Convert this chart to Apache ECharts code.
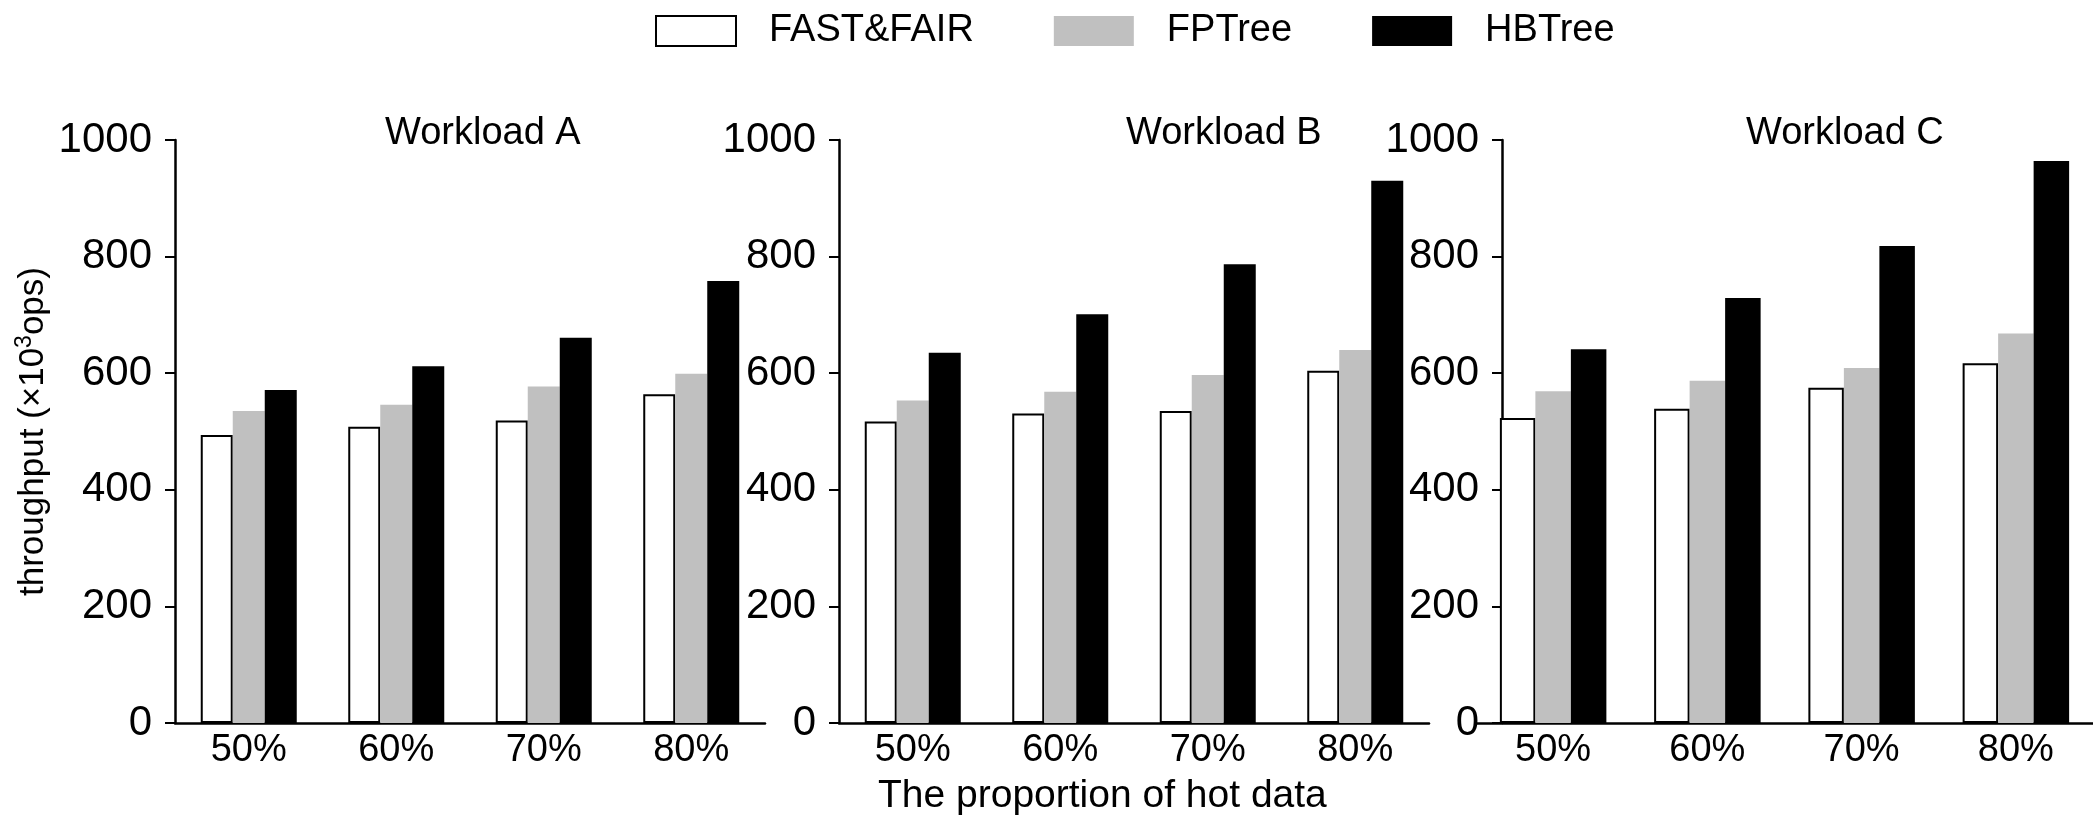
<!DOCTYPE html>
<html>
<head>
<meta charset="utf-8">
<script src="https://cdn.jsdelivr.net/npm/echarts@6/dist/echarts.min.js"></script>
<style>
html, body { margin: 0; padding: 0; background: #fff; }
#chart { width: 2093px; height: 815px; }
</style>
</head>
<body>
<div id="chart"></div>
<script>
var categories = ['50%', '60%', '70%', '80%'];
var seriesNames = ['FAST&FAIR', 'FPTree', 'HBTree'];
var workloads = ['Workload A', 'Workload B', 'Workload C'];

// throughput, x10^3 ops
var fastFairA = [494, 508, 519, 564];
var fpTreeA = [535, 546, 577, 599];
var hbTreeA = [571, 612, 661, 758];

var fastFairB = [517, 531, 535, 604];
var fpTreeB = [553, 568, 597, 640];
var hbTreeB = [635, 701, 787, 930];

var fastFairC = [523, 539, 575, 617];
var fpTreeC = [569, 587, 609, 668];
var hbTreeC = [641, 729, 818, 964];

var FONT = 'Liberation Sans';

function initCharts() {
    var dom = document.getElementById('chart');
    var myChart = echarts.init(dom);

    var panels = [
        {left: 175, width: 590, barWidth: 32, offset: 0, data: [fastFairA, fpTreeA, hbTreeA], titleLeft: 380},
        {left: 839, width: 590, barWidth: 32, offset: 0, data: [fastFairB, fpTreeB, hbTreeB], titleLeft: 1121},
        // panel C is wider and its y spine sits a bit inside the plot
        {left: 1476, width: 647, barWidth: 35.5, offset: -26, data: [fastFairC, fpTreeC, hbTreeC], titleLeft: 1741}
    ];
    var styles = [
        {color: '#fff', borderColor: '#000', borderWidth: 2},
        {color: '#c0c0c0'},
        {color: '#000'}
    ];

    var grid = [], xAxis = [], yAxis = [], series = [], title = [];
    panels.forEach(function (p, i) {
        grid.push({left: p.left, top: 140, width: p.width, height: 583});
        xAxis.push({
            type: 'category',
            gridIndex: i,
            data: categories,
            axisLine: {lineStyle: {color: '#000', width: 2.5}},
            axisTick: {show: false},
            axisLabel: {color: '#000', fontSize: 38, fontFamily: FONT, margin: 9}
        });
        yAxis.push({
            type: 'value',
            gridIndex: i,
            min: 0,
            max: 1000,
            interval: 200,
            offset: p.offset,
            name: i === 0 ? 'throughput (×10{sup|3}ops)' : '',
            nameLocation: 'middle',
            nameGap: 118,
            nameTextStyle: {
                color: '#000', fontSize: 35, fontFamily: FONT, lineHeight: 42,
                rich: {sup: {fontSize: 23, lineHeight: 23, fontFamily: FONT, color: '#000', verticalAlign: 'top'}}
            },
            axisLine: {show: true, lineStyle: {color: '#000', width: 2.5}},
            axisTick: {show: true, length: 10, lineStyle: {color: '#000', width: 2}},
            splitLine: {show: false},
            axisLabel: {
                color: '#000', fontSize: 42, fontFamily: FONT, margin: 23,
                formatter: function (v) { return String(v); }
            }
        });
        for (var k = 0; k < 3; k++) {
            series.push({
                name: seriesNames[k],
                type: 'bar',
                xAxisIndex: i,
                yAxisIndex: i,
                data: p.data[k],
                barWidth: p.barWidth,
                barGap: '0%',
                itemStyle: styles[k]
            });
        }
        title.push({
            text: workloads[i],
            left: p.titleLeft,
            top: 110,
            textStyle: {color: '#000', fontSize: 38, fontWeight: 'normal', fontFamily: FONT}
        });
    });

    title.push({
        text: 'The proportion of hot data',
        left: 873,
        top: 772,
        textStyle: {color: '#000', fontSize: 39, fontWeight: 'normal', fontFamily: FONT}
    });

    var option = {
        backgroundColor: '#fff',
        animation: false,
        title: title,
        legend: {
            data: seriesNames,
            left: 650,
            top: 7,
            icon: 'rect',
            itemWidth: 80,
            itemHeight: 30,
            itemGap: 80,
            textStyle: {color: '#000', fontSize: 38, fontFamily: FONT, padding: [0, 0, 0, 28]}
        },
        grid: grid,
        xAxis: xAxis,
        yAxis: yAxis,
        series: series
    };
    myChart.setOption(option, true);
}

initCharts();
</script>
</body>
</html>
